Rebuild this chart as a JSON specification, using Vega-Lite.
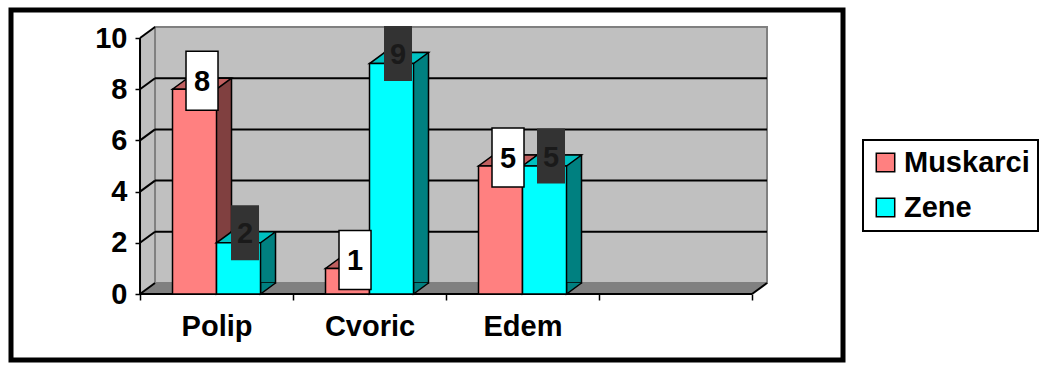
{
  "$schema": "https://vega.github.io/schema/vega-lite/v6.json",
  "width": 832,
  "height": 350,
  "autosize": {"type": "none"},
  "padding": {"left": 11, "top": 10, "right": 199, "bottom": 16},
  "background": "white",
  "config": {
    "font": "Liberation Sans",
    "view": {"stroke": "black", "strokeWidth": 5},
    "legend": {"strokeColor": "black", "strokeWidth": 2}
  },
  "datasets": {
    "bars": [
      {"cat": "Polip", "series": "Muskarci", "value": 8},
      {"cat": "Cvoric", "series": "Muskarci", "value": 1},
      {"cat": "Edem", "series": "Muskarci", "value": 5},
      {"cat": "Polip", "series": "Zene", "value": 2},
      {"cat": "Cvoric", "series": "Zene", "value": 9},
      {"cat": "Edem", "series": "Zene", "value": 5}
    ],
    "grid": [{"v": 0}, {"v": 2}, {"v": 4}, {"v": 6}, {"v": 8}, {"v": 10}]
  },
  "layer": [
    {
      "data": {"values": [{}]},
      "mark": {"type": "rect", "fill": "#C0C0C0", "x2Offset": 15},
      "encoding": {
        "x": {"datum": "Polip", "type": "nominal", "bandPosition": 0,
          "scale": {"type": "band", "domain": ["Polip", "Cvoric", "Edem", " "], "paddingInner": 0, "paddingOuter": 0.719, "align": 0.5864},
          "axis": {"orient": "bottom", "offset": -66, "domain": false, "grid": false, "tickBand": "extent", "tickSize": 6, "tickWidth": 1.5, "tickColor": "black", "labelFontSize": 29, "labelFontWeight": "bold", "labelColor": "black", "labelFont": "Liberation Sans", "labelPadding": 12, "labelAngle": 0, "title": null}},
        "x2": {"datum": "Polip", "bandPosition": 0},
        "y": {"datum": 10, "type": "quantitative",
          "scale": {"domain": [-2.578, 11.094], "nice": false, "zero": false},
          "axis": {"orient": "left", "offset": -129, "domain": false, "grid": false, "values": [0, 2, 4, 6, 8, 10], "tickSize": 5, "tickWidth": 1.5, "tickColor": "black", "labelFontSize": 29, "labelFontWeight": "bold", "labelColor": "black", "labelFont": "Liberation Sans", "labelPadding": 8, "title": null}},
        "y2": {"datum": 0}
      }
    },
    {
      "data": {"values": [{}]},
      "mark": {"type": "point", "shape": "M0,0L15,-11L15,0Z", "size": 4, "filled": true, "fill": "#C0C0C0", "opacity": 1},
      "encoding": {
        "x": {"datum": "Polip", "type": "nominal", "bandPosition": 0},
        "y": {"datum": 10, "type": "quantitative"}
      }
    },
    {
      "data": {"values": [{}]},
      "mark": {"type": "rect", "fill": "#C0C0C0", "stroke": "#808080", "strokeWidth": 2, "xOffset": 15, "x2Offset": 15, "yOffset": -11, "y2Offset": -11},
      "encoding": {
        "x": {"datum": "Polip", "type": "nominal", "bandPosition": 0},
        "x2": {"datum": " ", "bandPosition": 1},
        "y": {"datum": 10, "type": "quantitative"},
        "y2": {"datum": 0}
      }
    },
    {
      "data": {"values": [{}]},
      "mark": {"type": "rect", "fill": "#808080", "xOffset": 15, "yOffset": -11},
      "encoding": {
        "x": {"datum": "Polip", "type": "nominal", "bandPosition": 0},
        "x2": {"datum": " ", "bandPosition": 1},
        "y": {"datum": 0, "type": "quantitative"},
        "y2": {"datum": 0}
      }
    },
    {
      "data": {"values": [{}]},
      "mark": {"type": "point", "shape": "M0,0L15,-11L15,0Z", "size": 4, "filled": true, "fill": "#808080", "opacity": 1},
      "encoding": {
        "x": {"datum": "Polip", "type": "nominal", "bandPosition": 0},
        "y": {"datum": 0, "type": "quantitative"}
      }
    },
    {
      "data": {"values": [{}]},
      "mark": {"type": "point", "shape": "M0,0L0,-11L15,-11Z", "size": 4, "filled": true, "fill": "#808080", "opacity": 1},
      "encoding": {
        "x": {"datum": " ", "type": "nominal", "bandPosition": 1},
        "y": {"datum": 0, "type": "quantitative"}
      }
    },
    {
      "data": {"name": "grid"},
      "transform": [{"filter": "datum.v > 0 && datum.v < 10"}],
      "mark": {"type": "rule", "stroke": "black", "strokeWidth": 2, "xOffset": 15, "x2Offset": 15, "yOffset": -11},
      "encoding": {
        "x": {"datum": "Polip", "type": "nominal", "bandPosition": 0},
        "x2": {"datum": " ", "bandPosition": 1},
        "y": {"field": "v", "type": "quantitative", "title": null}
      }
    },
    {
      "data": {"name": "grid"},
      "mark": {"type": "point", "shape": "M0,0L15,-11", "size": 4, "filled": false, "stroke": "black", "strokeWidth": 2, "opacity": 1},
      "encoding": {
        "x": {"datum": "Polip", "type": "nominal", "bandPosition": 0},
        "y": {"field": "v", "type": "quantitative", "title": null}
      }
    },
    {
      "data": {"values": [{}]},
      "mark": {"type": "point", "shape": "M0,0L15,-11", "size": 4, "filled": false, "stroke": "black", "strokeWidth": 2, "opacity": 1},
      "encoding": {
        "x": {"datum": " ", "type": "nominal", "bandPosition": 1},
        "y": {"datum": 0, "type": "quantitative"}
      }
    },
    {
      "data": {"values": [{}]},
      "mark": {"type": "rule", "stroke": "black", "strokeWidth": 2},
      "encoding": {
        "x": {"datum": "Polip", "type": "nominal", "bandPosition": 0},
        "y": {"datum": 0, "type": "quantitative"},
        "y2": {"datum": 10}
      }
    },
    {
      "data": {"values": [{}]},
      "mark": {"type": "rule", "stroke": "black", "strokeWidth": 2},
      "encoding": {
        "x": {"datum": "Polip", "type": "nominal", "bandPosition": 0},
        "x2": {"datum": " ", "bandPosition": 1},
        "y": {"datum": 0, "type": "quantitative"}
      }
    },
    {
      "data": {"name": "bars"},
      "transform": [{"filter": "datum.series == 'Muskarci'"}],
      "mark": {"type": "bar", "width": 44, "fill": "#804040", "stroke": "black", "strokeWidth": 1.5, "xOffset": -7, "yOffset": -11, "y2Offset": -11},
      "encoding": {
        "x": {"field": "cat", "type": "nominal", "title": null},
        "y": {"field": "value", "type": "quantitative", "title": null},
        "y2": {"datum": 0}
      }
    },
    {
      "data": {"name": "bars"},
      "transform": [{"filter": "datum.series == 'Muskarci'"}],
      "mark": {"type": "point", "shape": "M0,-11L0,0L15,-11", "size": 4, "filled": true, "fill": "#804040", "stroke": "black", "strokeWidth": 1.5, "opacity": 1, "xOffset": 0},
      "encoding": {
        "x": {"field": "cat", "type": "nominal", "title": null},
        "y": {"datum": 0, "type": "quantitative"}
      }
    },
    {
      "data": {"name": "bars"},
      "transform": [{"filter": "datum.series == 'Muskarci'"}],
      "mark": {"type": "point", "shape": "M-22,0L22,0L37,-11L-7,-11Z", "size": 4, "filled": true, "fill": "#C06060", "stroke": "black", "strokeWidth": 1.5, "opacity": 1, "xOffset": -22},
      "encoding": {
        "x": {"field": "cat", "type": "nominal", "title": null},
        "y": {"field": "value", "type": "quantitative", "title": null}
      }
    },
    {
      "data": {"name": "bars"},
      "transform": [{"filter": "datum.series == 'Muskarci'"}],
      "mark": {"type": "bar", "width": 44, "stroke": "black", "strokeWidth": 1.5, "xOffset": -22},
      "encoding": {
        "x": {"field": "cat", "type": "nominal", "title": null},
        "y": {"field": "value", "type": "quantitative", "title": null},
        "y2": {"datum": 0},
        "fill": {"field": "series", "type": "nominal",
          "scale": {"domain": ["Muskarci", "Zene"], "range": ["#FF8080", "#00FFFF"]},
          "legend": {"orient": "none", "legendX": 852, "legendY": 130, "title": null, "symbolType": "square", "symbolSize": 340, "symbolStrokeColor": "black", "symbolStrokeWidth": 1.5, "labelFontSize": 29, "labelFontWeight": "bold", "labelColor": "black", "labelFont": "Liberation Sans", "labelOffset": 4, "rowPadding": 15, "padding": 8, "strokeColor": "black"}}
      }
    },
    {
      "data": {"name": "bars"},
      "transform": [{"filter": "datum.series == 'Zene'"}],
      "mark": {"type": "bar", "width": 44, "fill": "#008080", "stroke": "black", "strokeWidth": 1.5, "xOffset": 37, "yOffset": -11, "y2Offset": -11},
      "encoding": {
        "x": {"field": "cat", "type": "nominal", "title": null},
        "y": {"field": "value", "type": "quantitative", "title": null},
        "y2": {"datum": 0}
      }
    },
    {
      "data": {"name": "bars"},
      "transform": [{"filter": "datum.series == 'Zene'"}],
      "mark": {"type": "point", "shape": "M0,-11L0,0L15,-11", "size": 4, "filled": true, "fill": "#008080", "stroke": "black", "strokeWidth": 1.5, "opacity": 1, "xOffset": 44},
      "encoding": {
        "x": {"field": "cat", "type": "nominal", "title": null},
        "y": {"datum": 0, "type": "quantitative"}
      }
    },
    {
      "data": {"name": "bars"},
      "transform": [{"filter": "datum.series == 'Zene'"}],
      "mark": {"type": "point", "shape": "M-22,0L22,0L37,-11L-7,-11Z", "size": 4, "filled": true, "fill": "#00C0C0", "stroke": "black", "strokeWidth": 1.5, "opacity": 1, "xOffset": 22},
      "encoding": {
        "x": {"field": "cat", "type": "nominal", "title": null},
        "y": {"field": "value", "type": "quantitative", "title": null}
      }
    },
    {
      "data": {"name": "bars"},
      "transform": [{"filter": "datum.series == 'Zene'"}],
      "mark": {"type": "bar", "width": 44, "stroke": "black", "strokeWidth": 1.5, "xOffset": 22},
      "encoding": {
        "x": {"field": "cat", "type": "nominal", "title": null},
        "y": {"field": "value", "type": "quantitative", "title": null},
        "y2": {"datum": 0},
        "fill": {"field": "series", "type": "nominal"}
      }
    },
    {
      "data": {"name": "bars"},
      "transform": [{"filter": "datum.series == 'Muskarci'"}],
      "mark": {"type": "point", "shape": "M-16,-29.5H16V29.5H-16Z", "size": 4, "filled": true, "fill": "white", "stroke": "black", "strokeWidth": 1.5, "opacity": 1, "xOffset": -14.5, "yOffset": -8.5},
      "encoding": {
        "x": {"field": "cat", "type": "nominal", "title": null},
        "y": {"field": "value", "type": "quantitative", "title": null}
      }
    },
    {
      "data": {"name": "bars"},
      "transform": [{"filter": "datum.series == 'Muskarci'"}],
      "mark": {"type": "text", "font": "Liberation Sans", "fontSize": 29, "fontWeight": "bold", "fill": "black", "align": "center", "baseline": "middle", "xOffset": -14.5, "yOffset": -7},
      "encoding": {
        "x": {"field": "cat", "type": "nominal", "title": null},
        "y": {"field": "value", "type": "quantitative", "title": null},
        "text": {"field": "value", "type": "quantitative"}
      }
    },
    {
      "data": {"name": "bars"},
      "transform": [{"filter": "datum.series == 'Zene'"}],
      "mark": {"type": "point", "shape": "M-14,-27.5H14V27.5H-14Z", "size": 4, "filled": true, "fill": "#333333", "opacity": 1, "xOffset": 28.5, "yOffset": -10},
      "encoding": {
        "x": {"field": "cat", "type": "nominal", "title": null},
        "y": {"field": "value", "type": "quantitative", "title": null}
      }
    },
    {
      "data": {"name": "bars"},
      "transform": [{"filter": "datum.series == 'Zene'"}],
      "mark": {"type": "text", "font": "Liberation Sans", "fontSize": 29, "fontWeight": "bold", "fill": "#1a1a1a", "align": "center", "baseline": "middle", "xOffset": 28.5, "yOffset": -8.5},
      "encoding": {
        "x": {"field": "cat", "type": "nominal", "title": null},
        "y": {"field": "value", "type": "quantitative", "title": null},
        "text": {"field": "value", "type": "quantitative"}
      }
    }
  ]
}
